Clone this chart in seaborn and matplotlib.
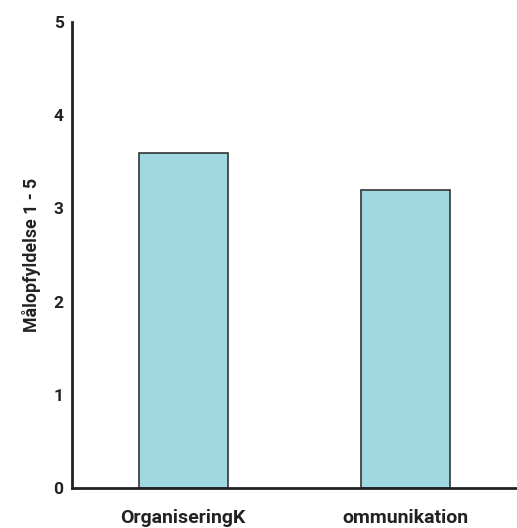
import matplotlib
matplotlib.use("Agg")
import matplotlib.pyplot as plt
import seaborn as sns
import pandas as pd

categories = ["OrganiseringK", "ommunikation"]
values = [3.6, 3.2]
y_ticks = [0, 1, 2, 3, 4, 5]
y_label = "Målopfyldelse 1 - 5"

sns.set_theme(style="white")
plt.rcParams["font.family"] = ["Roboto", "DejaVu Sans"]

df = pd.DataFrame({"kategori": categories, "score": values})

fig = plt.figure(figsize=(5.17, 5.28), dpi=100)
ax = fig.add_axes([0.139, 0.076, 0.861, 0.882])

sns.barplot(data=df, x="kategori", y="score", color="#a0d8e2",
            edgecolor="#333333", linewidth=1.2, width=0.4, saturation=1, ax=ax)

ax.set_xlim(-0.5, 1.5)
ax.set_ylim(0, 5)
ax.set_yticks(y_ticks)
ax.set_yticklabels([str(t) for t in y_ticks], fontsize=12.5, fontweight="bold",
                   color="#222222")
ax.set_xticks([0, 1])
ax.set_xticklabels(categories, fontsize=14, fontweight="bold", color="#222222")
ax.set_xlabel("")
ax.set_ylabel(y_label, fontsize=12.8, fontweight="bold", color="#222222", labelpad=9)

for side in ("top", "right"):
    ax.spines[side].set_visible(False)
for side in ("left", "bottom"):
    ax.spines[side].set_color("#222222")
    ax.spines[side].set_linewidth(2)

ax.tick_params(axis="x", length=0, pad=15)
ax.tick_params(axis="y", length=0, pad=6)
# single divider tick between the two categories
ax.set_xticks([0.5], minor=True)
ax.tick_params(axis="x", which="minor", direction="in", length=8, width=2, color="#222222")

fig.savefig("out.png", dpi=100)
